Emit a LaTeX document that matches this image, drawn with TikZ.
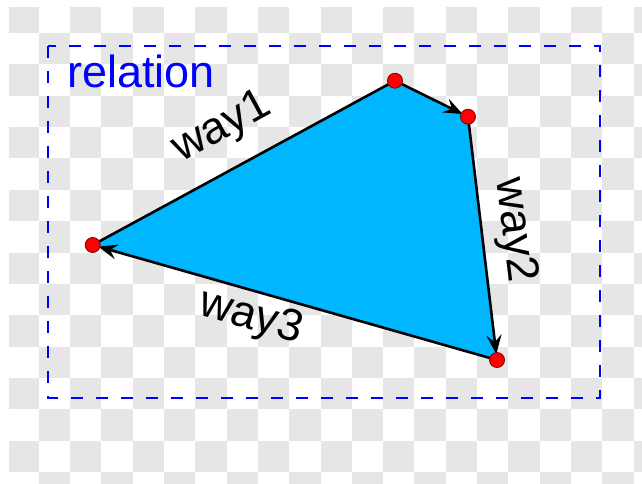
\documentclass[tikz,border=0pt]{standalone}
\usepackage{fontspec}
\setmainfont{Liberation Sans}
\usetikzlibrary{arrows.meta}
\definecolor{chk}{RGB}{230,230,230}
\definecolor{polyfill}{RGB}{0,182,255}
\definecolor{relblue}{RGB}{0,0,255}
\definecolor{dotred}{RGB}{255,0,0}
\tikzset{
  edgeline/.style={line width=2.6pt, black, line join=round},
  tipstyle/.style={-{Stealth[length=19pt,width=15pt,inset=7pt]}, shorten >=6pt},
  dotnode/.style={circle, fill=dotred, draw={rgb,255:red,120;green,0;blue,0}, line width=0.8pt, minimum size=15pt, inner sep=0pt},
  waylabel/.style={font=\fontsize{45}{52}\selectfont, text=black, inner sep=0pt},
  framebox/.style={draw=relblue, line width=2.6pt, dash pattern=on 12pt off 13pt}
}
\begin{document}
\begin{tikzpicture}[x=1pt,y=-1pt]
\useasboundingbox (0,0) rectangle (642,483);
\fill[white] (0,0) rectangle (642,483);
% checkerboard
\begin{scope}
\clip (9,7) rectangle (642,483);
\foreach \i in {0,...,20}{
  \foreach \j in {0,...,15}{
    \pgfmathtruncatemacro\cpar{mod(\i+\j,2)}
    \ifnum\cpar=0
      \fill[chk] ({7.5+31.3*\i},{1.7+31.35*\j}) rectangle ++(31.3,31.35);
    \fi
  }
}
\end{scope}
% relation frame
\coordinate (fa) at (48,46);
\coordinate (fb) at (600,398);
\draw[framebox] (fa) rectangle (fb);
\node[anchor=base west, text=relblue, font=\fontsize{45}{52}\selectfont, inner sep=0pt] (rel) at (67,87) {relation};
% vertices
\coordinate (L) at (92.7,245);
\coordinate (T) at (395,80.7);
\coordinate (R) at (468,116.7);
\coordinate (B) at (497,360);
\fill[polyfill] (L) -- (T) -- (R) -- (B) -- cycle;
\draw[edgeline, tipstyle] (L) -- (T) -- (R);
\draw[edgeline, tipstyle] (R) -- (B);
\draw[edgeline, tipstyle] (B) -- (L);
\node[dotnode] (dL) at (L) {};
\node[dotnode] (dT) at (T) {};
\node[dotnode] (dR) at (R) {};
\node[dotnode] (dB) at (B) {};
% labels
\node[waylabel, rotate=28.6] (w1) at (222,128) {way1};
\node[waylabel, rotate=-82.9] (w2) at (514,230) {way2};
\node[waylabel, rotate=-15.6] (w3) at (251,318) {way3};
\end{tikzpicture}
\end{document}
